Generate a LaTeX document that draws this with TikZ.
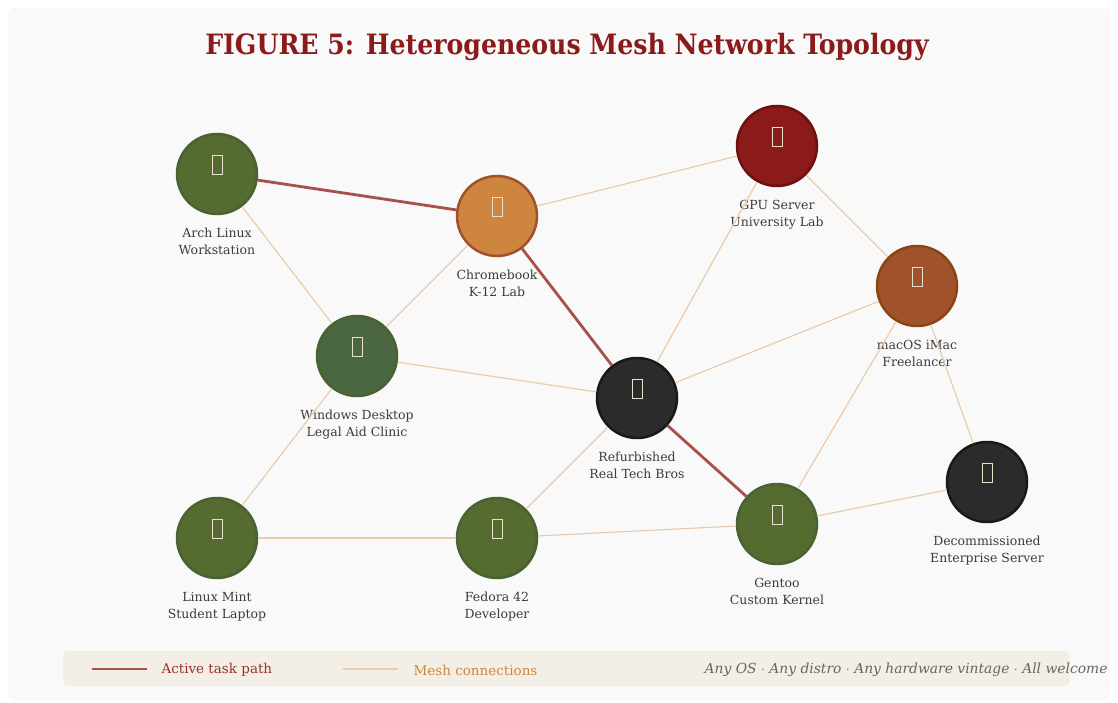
\documentclass[tikz,border=0pt]{standalone}
\usepackage{fontspec}
\setmainfont{DejaVu Serif}
\newfontfamily\titlefont{DejaVu Serif Condensed}
\usetikzlibrary{positioning}
\definecolor{pagebg}{RGB}{249, 249, 249}
\definecolor{legendbg}{RGB}{244, 239, 230}
\definecolor{crimson}{RGB}{139, 26, 26}
\definecolor{activeline}{RGB}{168, 80, 76}
\definecolor{meshline}{RGB}{234, 204, 172}
\definecolor{olive}{RGB}{85, 107, 47}
\definecolor{olivedark}{RGB}{72, 98, 50}
\definecolor{hunter}{RGB}{74, 103, 65}
\definecolor{peru}{RGB}{205, 133, 63}
\definecolor{sienna}{RGB}{160, 82, 45}
\definecolor{saddle}{RGB}{139, 69, 19}
\definecolor{gpured}{RGB}{139, 26, 26}
\definecolor{gpuedge}{RGB}{110, 16, 16}
\definecolor{charcoal}{RGB}{43, 43, 43}
\definecolor{inkgray}{RGB}{60, 60, 60}
\definecolor{icon}{RGB}{232, 226, 206}

\tikzset{
  device/.style={circle, minimum size=80pt, inner sep=0pt, line width=2.5pt,
    path picture={\draw[icon, line width=0.9pt]
      ([xshift=-5pt]path picture bounding box.center) rectangle
      ([xshift=5pt, yshift=19pt]path picture bounding box.center);}},
  linuxbox/.style={device, fill=olive, draw=olivedark},
  devlabel/.style={align=center, text=inkgray, inner sep=1pt,
    font=\fontsize{12.5}{17}\selectfont},
  active/.style={activeline, line width=2.8pt},
  mesh/.style={meshline, line width=1.2pt}
}

\begin{document}
\begin{tikzpicture}[x=1pt, y=-1pt]
  \useasboundingbox (0,0) rectangle (1118,703);
  \fill[white] (0,0) rectangle (1118,703);
  \fill[pagebg, rounded corners=6pt] (8,8) rectangle (1110,700);

  % Title
  \node[text=crimson, font=\titlefont\bfseries\fontsize{28}{32}\selectfont] (title) at (567,47)
    {FIGURE 5: Heterogeneous Mesh Network Topology};

  % Machines
  \node[linuxbox]                              (arch)   at (217,174) {};
  \node[device, fill=peru, draw=sienna]        (chrome) at (497,216) {};
  \node[device, fill=gpured, draw=gpuedge]     (gpu)    at (777,146) {};
  \node[device, fill=sienna, draw=saddle]      (imac)   at (917,286) {};
  \node[device, fill=hunter, draw=olivedark]   (win)    at (357,356) {};
  \node[device, fill=charcoal, draw=black!90]  (refurb) at (637,398) {};
  \node[device, fill=charcoal, draw=black!90]  (decom)  at (987,482) {};
  \node[linuxbox]                              (mint)   at (217,538) {};
  \node[linuxbox]                              (fedora) at (497,538) {};
  \node[linuxbox]                              (gentoo) at (777,524) {};

  % Captions
  \node[devlabel, below=12pt of arch]   (arch-lbl)   {Arch Linux\\Workstation};
  \node[devlabel, below=12pt of chrome] (chrome-lbl) {Chromebook\\K-12 Lab};
  \node[devlabel, below=12pt of gpu]    (gpu-lbl)    {GPU Server\\University Lab};
  \node[devlabel, below=12pt of imac]   (imac-lbl)   {macOS iMac\\Freelancer};
  \node[devlabel, below=12pt of win]    (win-lbl)    {Windows Desktop\\Legal Aid Clinic};
  \node[devlabel, below=12pt of refurb] (refurb-lbl) {Refurbished\\Real Tech Bros};
  \node[devlabel, below=12pt of decom]  (decom-lbl)  {Decommissioned\\Enterprise Server};
  \node[devlabel, below=12pt of mint]   (mint-lbl)   {Linux Mint\\Student Laptop};
  \node[devlabel, below=12pt of fedora] (fedora-lbl) {Fedora 42\\Developer};
  \node[devlabel, below=12pt of gentoo] (gentoo-lbl) {Gentoo\\Custom Kernel};

  % Mesh links
  \draw[mesh] (arch) -- (win);
  \draw[mesh] (chrome) -- (gpu);
  \draw[mesh] (chrome) -- (win);
  \draw[mesh] (win) -- (refurb);
  \draw[mesh] (win) -- (mint);
  \draw[mesh] (mint) -- (fedora);
  \draw[mesh] (fedora) -- (refurb);
  \draw[mesh] (fedora) -- (gentoo);
  \draw[mesh] (refurb) -- (gpu);
  \draw[mesh] (refurb) -- (imac);
  \draw[mesh] (gpu) -- (imac);
  \draw[mesh] (imac) -- (gentoo);
  \draw[mesh] (imac) -- (decom);
  \draw[mesh] (gentoo) -- (decom);

  % Task path
  \draw[active] (arch) -- (chrome);
  \draw[active] (chrome) -- (refurb);
  \draw[active] (refurb) -- (gentoo);

  % Legend
  \fill[legendbg, rounded corners=5pt] (63,651) rectangle (1070,686);
  \coordinate (act-a) at (92,669);
  \coordinate (act-b) at (147,669);
  \coordinate (mesh-a) at (343,669);
  \coordinate (mesh-b) at (398,669);
  \draw[active] (act-a) -- (act-b);
  \draw[mesh] (mesh-a) -- (mesh-b);
  \node[anchor=west, text=crimson!90, font=\fontsize{13.5}{16}\selectfont] (act-txt) at (158,670) {Active task path};
  \node[anchor=west, text=peru, font=\fontsize{13.5}{16}\selectfont] (mesh-txt) at (410,670) {Mesh connections};
  \node[anchor=east, text=black!60, font=\itshape\fontsize{13.85}{16}\selectfont] (motto) at (1111,670)
    {Any OS $\cdot$ Any distro $\cdot$ Any hardware vintage $\cdot$ All welcome};
\end{tikzpicture}
\end{document}
